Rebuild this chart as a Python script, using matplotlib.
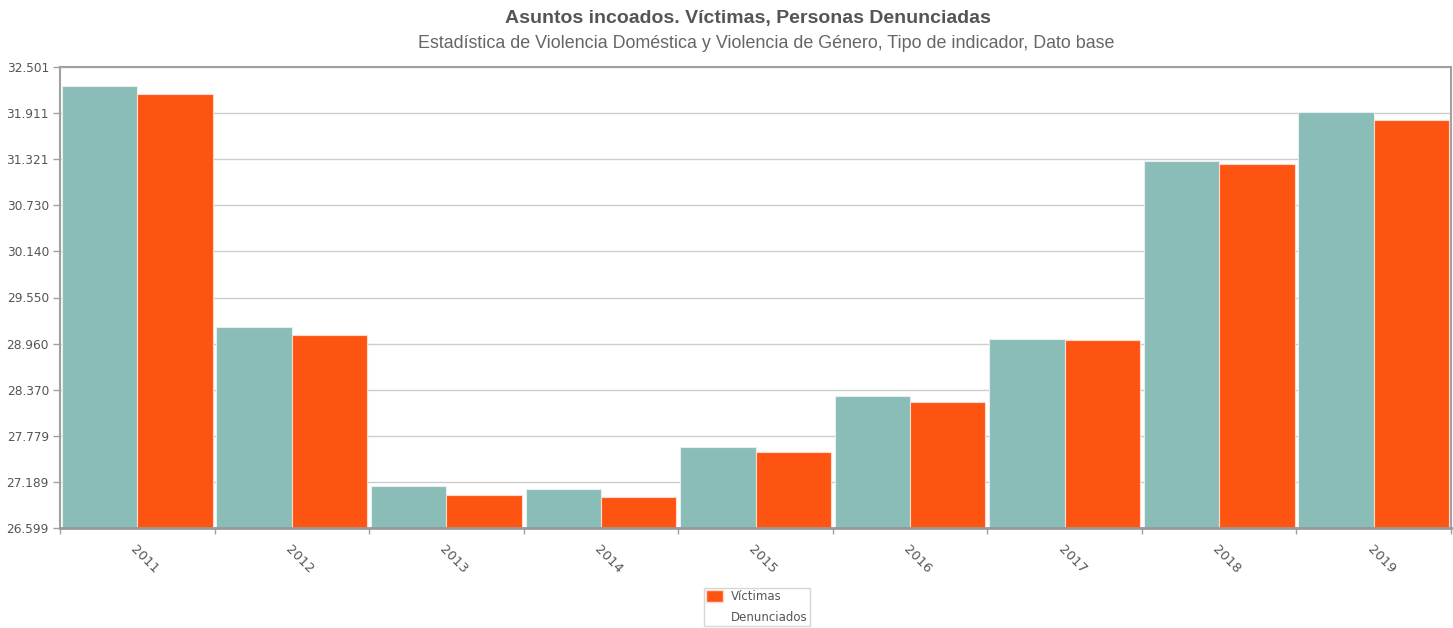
import matplotlib
matplotlib.use("Agg")
import matplotlib.pyplot as plt
from matplotlib.patches import Patch
from matplotlib.ticker import FixedLocator
import numpy as np

# Data
years = ["2011", "2012", "2013", "2014", "2015", "2016", "2017", "2018", "2019"]
denunciados = [32257, 29169, 27134, 27095, 27630, 28293, 29020, 31295, 31924]
victimas = [32155, 29066, 27022, 26996, 27566, 28216, 29002, 31260, 31818]
y_ticks = [26599, 27189, 27779, 28370, 28960, 29550, 30140, 30730, 31321, 31911, 32501]

title = "Asuntos incoados. Víctimas, Personas Denunciadas"
subtitle = "Estadística de Violencia Doméstica y Violencia de Género, Tipo de indicador, Dato base"

TEAL = "#8bbdb8"
ORANGE = "#fe5412"
TEXT = "#555555"
AXIS = "#a0a0a0"

fig = plt.figure(figsize=(14.53, 6.28), dpi=100)
ax = fig.add_axes([60 / 1453, 1 - 528 / 628, (1451 - 60) / 1453, (528 - 67) / 628])

x = np.arange(len(years))
w = 0.488
ax.bar(x - w / 2, denunciados, width=w, color=TEAL, edgecolor="#e6efee",
       linewidth=0.8, zorder=3)
ax.bar(x + w / 2, victimas, width=w, color=ORANGE, edgecolor="#ffd9cc",
       linewidth=0.8, zorder=3)

ax.set_xlim(-0.5, len(years) - 0.5)
ax.set_ylim(y_ticks[0], y_ticks[-1])

ax.set_yticks(y_ticks)
ax.set_yticklabels([f"{v:,}".replace(",", ".") for v in y_ticks])
ax.yaxis.grid(True, color="#cccccc", linewidth=1, zorder=0)
ax.tick_params(axis="y", length=5, width=1, color=AXIS, labelsize=8.7,
               labelcolor=TEXT, pad=3)

ax.set_xticks(x)
ax.set_xticklabels(years, rotation=-45, ha="left", va="top",
                   rotation_mode="anchor")
ax.xaxis.set_minor_locator(FixedLocator(np.arange(-0.5, len(years), 1.0)))
ax.tick_params(axis="x", which="major", length=0, labelsize=9.5,
               labelcolor=TEXT, pad=11)
ax.tick_params(axis="x", which="minor", length=4, width=1, color=AXIS)

for side in ["left", "top", "right"]:
    ax.spines[side].set_color(AXIS)
    ax.spines[side].set_linewidth(1.5)
ax.spines["bottom"].set_color("#999999")
ax.spines["bottom"].set_linewidth(2)
ax.spines["bottom"].set_zorder(4)

fig.text(748 / 1453, 1 - 19 / 628, title, ha="center", va="center",
         fontsize=14, fontweight="bold", color=TEXT,
         family="Liberation Sans")
fig.text(766 / 1453, 1 - 44 / 628, subtitle, ha="center", va="center",
         fontsize=12.9, color="#666666", family="Liberation Sans")

handles = [Patch(facecolor=ORANGE, edgecolor="#ffd9cc", label="Víctimas"),
           Patch(facecolor="none", edgecolor="none", label="Denunciados")]
leg = fig.legend(handles=handles, loc="upper left",
                 bbox_to_anchor=(704 / 1453, 1 - 588 / 628),
                 fontsize=8.5, frameon=True, fancybox=False, edgecolor="#cccccc",
                 handlelength=1.4, handleheight=1.2, handletextpad=0.7,
                 labelspacing=0.6, borderpad=0.2, borderaxespad=0)
for t in leg.get_texts():
    t.set_color(TEXT)

fig.savefig("out.png", dpi=100)
